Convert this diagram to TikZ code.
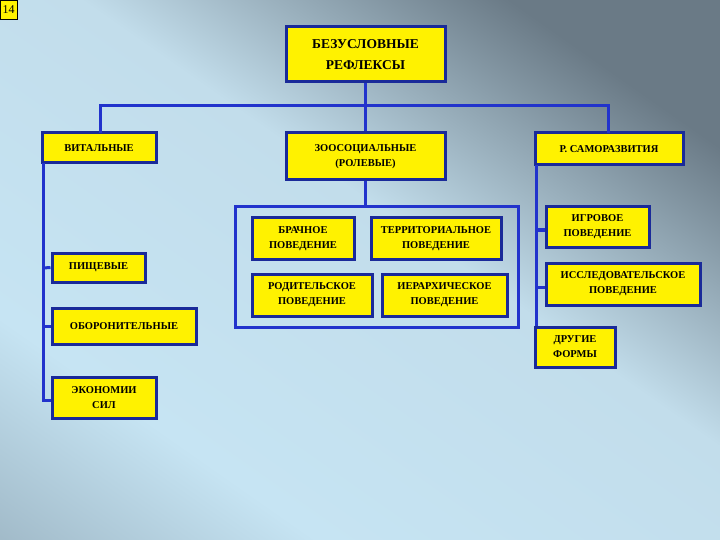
\documentclass[tikz,border=0pt]{standalone}
\usepackage{fontspec}
\setmainfont{Liberation Serif}
\definecolor{bgA}{HTML}{7C909E}
\definecolor{bgB}{HTML}{C6E4F3}
\definecolor{bgC}{HTML}{C2DDEB}
\definecolor{bgD}{HTML}{6A7A86}
\definecolor{lnc}{HTML}{2233CC}
\definecolor{bdc}{HTML}{1A2A99}
\pgfdeclarehorizontalshading{bgsh}{100bp}{color(0bp)=(bgA);color(30bp)=(bgB);color(55bp)=(bgC);color(75bp)=(bgD);color(100bp)=(bgD)}
\begin{document}
\begin{tikzpicture}[x=1pt,y=-1pt,
  bx/.style={draw=bdc,line width=3pt,fill=yellow,inner sep=0pt,font=\bfseries\fontsize{10.5}{15}\selectfont,align=center,text=black},
  ln/.style={draw=lnc,line width=3pt}]
\useasboundingbox (0,0) rectangle (720,540);
\shade[shading=bgsh,shading angle=55] (0,0) rectangle (720,540);
\node[draw=black,fill=yellow,inner sep=1pt,font=\fontsize{12}{12}\selectfont,minimum width=17pt,minimum height=19pt,anchor=north west] (pg) at (0,0) {14};
\node[bx,minimum width=159,minimum height=55,font=\bfseries\fontsize{13.5}{21}\selectfont] (t) at (365.5,54.5) {БЕЗУСЛОВНЫЕ\\РЕФЛЕКСЫ};
\node[bx,minimum width=114,minimum height=30] (v) at (99,148) {ВИТАЛЬНЫЕ};
\node[bx,minimum width=159,minimum height=47] (z) at (365.5,156.5) {ЗООСОЦИАЛЬНЫЕ\\(РОЛЕВЫЕ)};
\node[bx,minimum width=148,minimum height=32] (s) at (609,149) {Р. САМОРАЗВИТИЯ};
\node[bx,minimum width=93,minimum height=29] (p) at (98.5,267.5) {ПИЩЕВЫЕ};
\node[bx,minimum width=144,minimum height=36] (o) at (124,326) {ОБОРОНИТЕЛЬНЫЕ};
\node[bx,minimum width=104,minimum height=41] (e) at (104,397.5) {ЭКОНОМИИ\\СИЛ};
\node[bx,minimum width=102,minimum height=41] (b1) at (303,238.5) {БРАЧНОЕ\\ПОВЕДЕНИЕ};
\node[bx,minimum width=130,minimum height=41] (b2) at (436,238.5) {ТЕРРИТОРИАЛЬНОЕ\\ПОВЕДЕНИЕ};
\node[bx,minimum width=120,minimum height=42] (b3) at (312,295) {РОДИТЕЛЬСКОЕ\\ПОВЕДЕНИЕ};
\node[bx,minimum width=125,minimum height=42] (b4) at (444.5,295) {ИЕРАРХИЧЕСКОЕ\\ПОВЕДЕНИЕ};
\node[bx,minimum width=103,minimum height=40] (r1) at (597.5,227) {ИГРОВОЕ\\ПОВЕДЕНИЕ};
\node[bx,minimum width=154,minimum height=42] (r2) at (623,284) {ИССЛЕДОВАТЕЛЬСКОЕ\\ПОВЕДЕНИЕ};
\node[bx,minimum width=80,minimum height=40] (r3) at (575,347) {ДРУГИЕ\\ФОРМЫ};
\coordinate (gtl) at (235,207);
\coordinate (gbr) at (518,327);
\draw[ln] (gtl) rectangle (gbr);
\draw[ln] (t.south) -- (365.5,106);
\draw[ln] (100,133) |- (365.5,106) -| (608,133);
\draw[ln] (365.5,106) -- (z.north);
\draw[ln] (z.south) -- (z.south|-gtl);
\coordinate (lt) at (43,163);
\draw[ln] (lt) -- (43,400) -- (e.west|-0,400);
\draw[ln] (43,268) -- (p.west);
\draw[ln] (43,326) -- (o.west);
\coordinate (rt) at (536,165);
\draw[ln] (rt) -- (r3.north-|rt);
\draw[ln] (536,230) -- (r1.west|-0,230);
\draw[ln] (536,287) -- (r2.west|-0,287);
\end{tikzpicture}
\end{document}
